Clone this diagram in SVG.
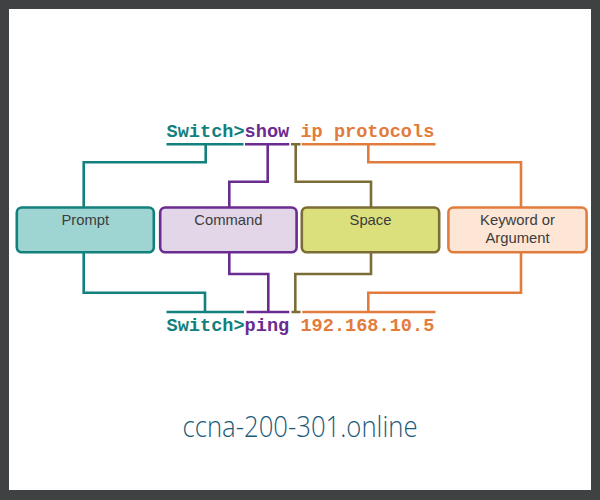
<svg xmlns="http://www.w3.org/2000/svg" width="600" height="500" viewBox="0 0 600 500">
<style>
.cmd{font-family:"Liberation Mono","Courier New",monospace;font-weight:bold;font-size:18.6px}
.lbl{font-family:"Liberation Sans",Arial,sans-serif;font-size:14.8px;fill:#3c3c3c;text-anchor:middle}
.ln{fill:none;stroke-width:2.6;stroke-linejoin:miter;stroke-linecap:butt}
.teal{stroke:#12807c}.purple{stroke:#6b2c91}.olive{stroke:#7b6d35}.orange{stroke:#e27c3c}
.box{stroke-width:2.6}
</style>
<rect x="0" y="0" width="600" height="500" fill="#404142"/>
<rect x="9" y="9" width="582" height="481" fill="#ffffff"/>

<g id="top-command">
<text class="cmd" x="166.5" y="137"><tspan fill="#12807c">Switch&gt;</tspan><tspan fill="#6b2c91">show</tspan><tspan fill="#e27c3c"> ip protocols</tspan></text>
</g>
<g id="bottom-command">
<text class="cmd" x="166.5" y="330.5"><tspan fill="#12807c">Switch&gt;</tspan><tspan fill="#6b2c91">ping</tspan><tspan fill="#e27c3c"> 192.168.10.5</tspan></text>
</g>

<g id="connectors">
<path class="ln teal" d="M166.5 144.3H243.5M205.7 144.3V162.3H83.7V207"/>
<path class="ln purple" d="M245 144.3H289.3M267.7 144.3V181.7H229.3V207"/>
<path class="ln olive" d="M291 144.3H300.5M295.7 144.3V181.7H371V207"/>
<path class="ln orange" d="M301.7 144.3H435.5M368.3 144.3V162.3H521V207"/>
<path class="ln teal" d="M166.5 312H244M83.7 252.5V292.7H205V312"/>
<path class="ln purple" d="M246.5 312H289.3M229.3 252.5V274H268.3V312"/>
<path class="ln olive" d="M291.5 312H300.5M371 252.5V274H295.3V312"/>
<path class="ln orange" d="M302.3 312H435.5M521 252.5V292.7H368.3V312"/>
</g>

<g id="prompt">
<rect class="box" x="16.8" y="207.5" width="137" height="44.8" rx="5" fill="#9ed5d2" stroke="#12807c"/>
<text class="lbl" x="85.3" y="225">Prompt</text>
</g>
<g id="command">
<rect class="box" x="160.2" y="207.5" width="136.4" height="44.8" rx="5" fill="#e2d6e8" stroke="#6b2c91"/>
<text class="lbl" x="228.4" y="225">Command</text>
</g>
<g id="space">
<rect class="box" x="301.8" y="207.5" width="137.4" height="44.8" rx="5" fill="#dbe07c" stroke="#7b6d35"/>
<text class="lbl" x="370.5" y="225">Space</text>
</g>
<g id="keyword">
<rect class="box" x="448.4" y="207.5" width="138.2" height="44.8" rx="5" fill="#fde6d6" stroke="#e27c3c"/>
<text class="lbl" x="517.5" y="225">Keyword or</text>
<text class="lbl" x="517.5" y="242.5">Argument</text>
</g>

<g id="footer">
<text x="300" y="437" font-family="'Open Sans','DejaVu Sans',sans-serif" font-weight="300" font-size="30" fill="#1b5a78" text-anchor="middle" textLength="235" lengthAdjust="spacingAndGlyphs">ccna-200-301.online</text>
</g>
</svg>
